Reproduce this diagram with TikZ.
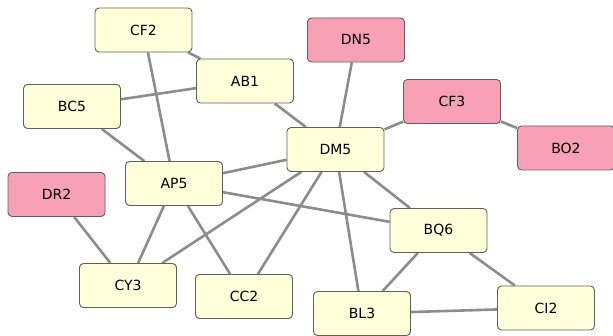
\documentclass[tikz,border=0pt]{standalone}
\usepackage{fontspec}
\setmainfont{DejaVu Sans}
\usetikzlibrary{positioning}
\pgfdeclarelayer{back}
\pgfsetlayers{back,main}

\definecolor{boxyellow}{RGB}{255,255,218}
\definecolor{boxpink}{RGB}{248,160,181}
\definecolor{boxline}{RGB}{95,95,95}
\definecolor{edgegray}{RGB}{140,140,140}

\tikzset{
  gene/.style={draw=boxline, line width=0.9pt, rounded corners=4pt, fill=boxyellow,
    minimum width=97pt, minimum height=44pt, font=\fontsize{14}{16}\selectfont},
  hit/.style={gene, fill=boxpink},
  link/.style={draw=edgegray, line width=2.6pt}
}

\begin{document}
\begin{tikzpicture}[x=1pt, y=-1pt]
\useasboundingbox (0,0) rectangle (613,336);

\node[gene] (CF2) at (143.5,30) {CF2};
\node[gene] (AB1) at (245,81) {AB1};
\node[hit]  (DN5) at (356,40) {DN5};
\node[gene] (BC5) at (72,106.5) {BC5};
\node[hit]  (CF3) at (452,101.5) {CF3};
\node[hit]  (BO2) at (566,148) {BO2};
\node[gene] (DM5) at (335.5,149.5) {DM5};
\node[gene] (AP5) at (174,183.5) {AP5};
\node[hit]  (DR2) at (56.5,194.5) {DR2};
\node[gene] (BQ6) at (438.5,230.5) {BQ6};
\node[gene] (CY3) at (128,285.5) {CY3};
\node[gene] (CC2) at (244,296.5) {CC2};
\node[gene] (BL3) at (362,313.5) {BL3};
\node[gene] (CI2) at (546,308) {CI2};

% links
\begin{pgfonlayer}{back}
\draw[link] (CF2) -- (AB1);
\draw[link] (CF2) -- (AP5);
\draw[link] (BC5) -- (AB1);
\draw[link] (BC5) -- (AP5);
\draw[link] (AB1) -- (DM5);
\draw[link] (DN5) -- (DM5);
\draw[link] (CF3) -- (DM5);
\draw[link] (CF3) -- (BO2);
\draw[link] (DR2) -- (CY3);
\draw[link] (AP5) -- (DM5);
\draw[link] (AP5) -- (BQ6);
\draw[link] (AP5) -- (CY3);
\draw[link] (AP5) -- (CC2);
\draw[link] (DM5) -- (CY3);
\draw[link] (DM5) -- (CC2);
\draw[link] (DM5) -- (BL3);
\draw[link] (DM5) -- (BQ6);
\draw[link] (BQ6) -- (BL3);
\draw[link] (BQ6) -- (CI2);
\draw[link] (BL3) -- (CI2);
\end{pgfonlayer}
\end{tikzpicture}
\end{document}
